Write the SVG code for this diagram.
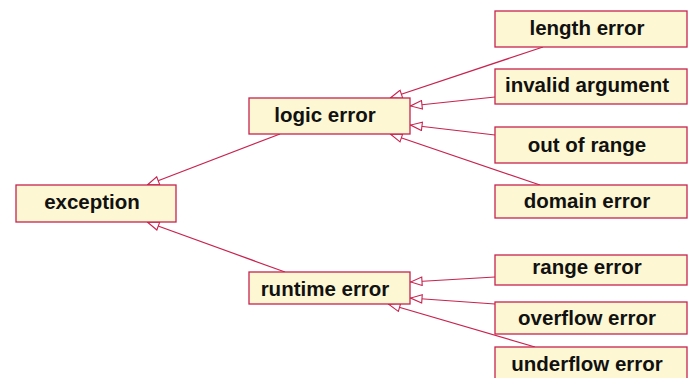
<svg xmlns="http://www.w3.org/2000/svg" width="694" height="378" viewBox="0 0 694 378">
  <style>
    .box { fill: #fdf8d3; stroke: #c8234f; stroke-width: 1.3; }
    .lbl { font-family: "Liberation Sans", Arial, sans-serif; font-weight: bold; font-size: 20.5px; fill: #111; text-anchor: middle; }
    .edge { stroke: #c8234f; stroke-width: 1.2; fill: none; marker-end: url(#inherit); }
  </style>
  <defs>
    <!-- open triangle head (generalization) -->
    <marker id="inherit" viewBox="0 0 13 10" refX="13" refY="5" markerWidth="13" markerHeight="10" markerUnits="userSpaceOnUse" orient="auto">
      <path d="M1,0.8 L12.4,5 L1,9.2 Z" fill="#ffffff" stroke="#c8234f" stroke-width="1.1"/>
    </marker>
  </defs>

  <g id="connectors">
    <line class="edge" x1="280" y1="134" x2="147" y2="185"/>
    <line class="edge" x1="285" y1="272" x2="147" y2="222"/>
    <line class="edge" x1="543" y1="47" x2="390" y2="98"/>
    <line class="edge" x1="495" y1="97" x2="410" y2="106"/>
    <line class="edge" x1="495" y1="135" x2="410" y2="125"/>
    <line class="edge" x1="540" y1="185" x2="390" y2="134"/>
    <line class="edge" x1="495" y1="277" x2="410" y2="282"/>
    <line class="edge" x1="495" y1="304" x2="410" y2="298"/>
    <line class="edge" x1="535" y1="347" x2="388" y2="304"/>
  </g>

  <g id="exception">
    <rect class="box" x="16" y="185" width="160" height="37"/>
    <text class="lbl" x="92" y="209">exception</text>
  </g>
  <g id="logic_error">
    <rect class="box" x="249" y="98" width="161" height="36"/>
    <text class="lbl" x="325" y="122">logic error</text>
  </g>
  <g id="runtime_error">
    <rect class="box" x="249" y="272" width="161" height="32"/>
    <text class="lbl" x="325" y="296">runtime error</text>
  </g>
  <g id="length_error">
    <rect class="box" x="495" y="11" width="192" height="36"/>
    <text class="lbl" x="587" y="35">length error</text>
  </g>
  <g id="invalid_argument">
    <rect class="box" x="495" y="69" width="192" height="35"/>
    <text class="lbl" x="587" y="92">invalid argument</text>
  </g>
  <g id="out_of_range">
    <rect class="box" x="495" y="127" width="192" height="36"/>
    <text class="lbl" x="587" y="152">out of range</text>
  </g>
  <g id="domain_error">
    <rect class="box" x="495" y="185" width="192" height="33"/>
    <text class="lbl" x="587" y="208">domain error</text>
  </g>
  <g id="range_error">
    <rect class="box" x="495" y="255" width="192" height="30"/>
    <text class="lbl" x="587" y="274">range error</text>
  </g>
  <g id="overflow_error">
    <rect class="box" x="495" y="302" width="192" height="32"/>
    <text class="lbl" x="587" y="325">overflow error</text>
  </g>
  <g id="underflow_error">
    <rect class="box" x="495" y="347" width="192" height="36"/>
    <text class="lbl" x="587" y="371">underflow error</text>
  </g>
</svg>
